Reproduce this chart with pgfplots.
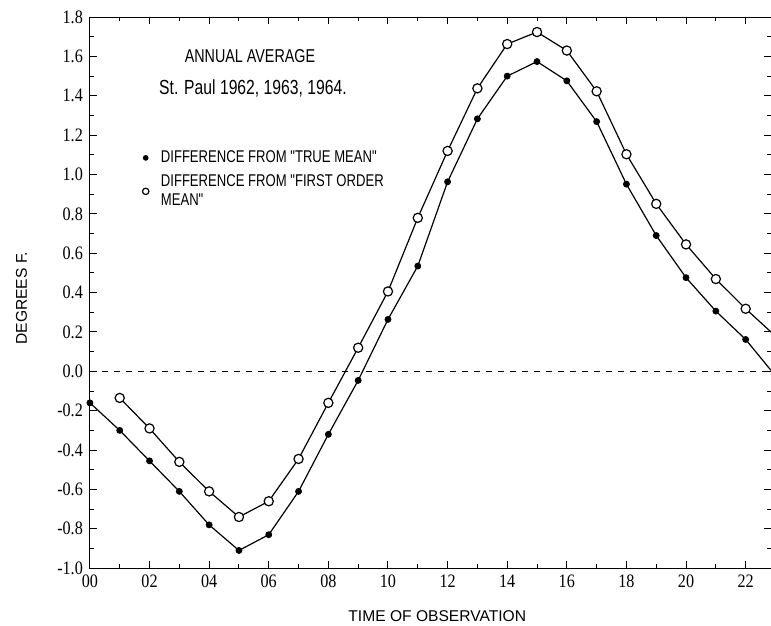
\documentclass[border=0pt]{standalone}
\usepackage{fontspec}
\setmainfont{Liberation Sans}
\newfontfamily\condfont[FakeStretch=0.77]{Liberation Sans}
\newfontfamily\tickfont[FakeStretch=0.85]{Liberation Serif}
\usepackage{pgfplots}
\pgfplotsset{compat=1.18}

\begin{document}
\begin{tikzpicture}
\begin{axis}[
    scale only axis,
    width=340.5pt,
    height=275.5pt,
    xmin=0, xmax=22.85,
    ymin=-1.0, ymax=1.8,
    axis line style={black, line width=0.5pt},
    tick align=inside,
    major tick length=3.5pt,
    minor tick length=2.2pt,
    tick style={black, line width=0.5pt},
    xtick={0,2,...,22},
    xticklabels={00,02,04,06,08,10,12,14,16,18,20,22},
    minor xtick={1,3,...,21},
    ytick={-1.0,-0.8,...,1.81},
    minor ytick={-0.9,-0.7,...,1.75},
    yticklabel style={/pgf/number format/.cd, fixed, fixed zerofill, precision=1, assume math mode=true},
    ticklabel style={font=\tickfont\fontsize{9.5}{11}\selectfont},
    xlabel={TIME OF OBSERVATION},
    ylabel={DEGREES F.},
    label style={font=\fontsize{7.8}{10}\selectfont},
    xlabel style={at={(axis description cs:0.51,-0.065)}, anchor=north},
    ylabel style={at={(axis description cs:-0.082,0.49)}, anchor=south},
    legend style={draw=none, fill=none, at={(axis cs:1.55,1.165)}, anchor=north west,
        font=\condfont\fontsize{8.5}{9.6}\selectfont, cells={align=left, anchor=west},
        row sep=0.5pt, /tikz/every odd column/.append style={column sep=4pt}},
    legend cell align=left,
]

% zero line
\addplot[black, dashed, line width=0.5pt, forget plot] coordinates {(0,0) (22.85,0)};

% difference from "true mean"
\addplot[black, line width=0.6pt, forget plot] coordinates {
(0,-0.16) (1,-0.30) (2,-0.455) (3,-0.61) (4,-0.78) (5,-0.91) (6,-0.83)
(7,-0.61) (8,-0.32) (9,-0.046) (10,0.264) (11,0.535) (12,0.963) (13,1.283)
(14,1.50) (15,1.574) (16,1.476) (17,1.269) (18,0.951) (19,0.690) (20,0.476)
(21,0.306) (22,0.162) (22.85,0.005)
};
\addplot[only marks, mark=*, mark size=1.5pt, black,
    legend image post style={mark size=1.2pt}] coordinates {
(0,-0.16) (1,-0.30) (2,-0.455) (3,-0.61) (4,-0.78) (5,-0.91) (6,-0.83)
(7,-0.61) (8,-0.32) (9,-0.046) (10,0.264) (11,0.535) (12,0.963) (13,1.283)
(14,1.50) (15,1.574) (16,1.476) (17,1.269) (18,0.951) (19,0.690) (20,0.476)
(21,0.306) (22,0.162)
};
\addlegendentry{DIFFERENCE FROM "TRUE MEAN"}

% difference from "first order mean"
\addplot[black, line width=0.6pt, forget plot] coordinates {
(1,-0.135) (2,-0.29) (3,-0.46) (4,-0.61) (5,-0.74) (6,-0.66) (7,-0.445)
(8,-0.16) (9,0.12) (10,0.406) (11,0.78) (12,1.12) (13,1.438) (14,1.663)
(15,1.724) (16,1.63) (17,1.423) (18,1.103) (19,0.851) (20,0.645) (21,0.469)
(22,0.318) (22.85,0.20)
};
\addplot[only marks, mark=*, mark size=2.3pt, mark options={fill=white, draw=black, line width=0.6pt},
    legend image post style={mark size=1.6pt, line width=0.5pt}] coordinates {
(1,-0.135) (2,-0.29) (3,-0.46) (4,-0.61) (5,-0.74) (6,-0.66) (7,-0.445)
(8,-0.16) (9,0.12) (10,0.406) (11,0.78) (12,1.12) (13,1.438) (14,1.663)
(15,1.724) (16,1.63) (17,1.423) (18,1.103) (19,0.851) (20,0.645) (21,0.469)
(22,0.318)
};
\addlegendentry{DIFFERENCE FROM "FIRST ORDER\\MEAN"}

\node[font=\condfont\fontsize{9.3}{11}\selectfont] at (axis cs:5.37,1.60) {ANNUAL AVERAGE};
\node[font=\condfont\fontsize{10.2}{12}\selectfont] at (axis cs:5.47,1.44) {St. Paul 1962, 1963, 1964.};

\coordinate (bl) at (axis description cs:-0.132,-0.1034);
\coordinate (tr) at (axis description cs:1,1.031);
\end{axis}
\pgfresetboundingbox
\useasboundingbox (bl) rectangle (tr);
\end{tikzpicture}
\end{document}
